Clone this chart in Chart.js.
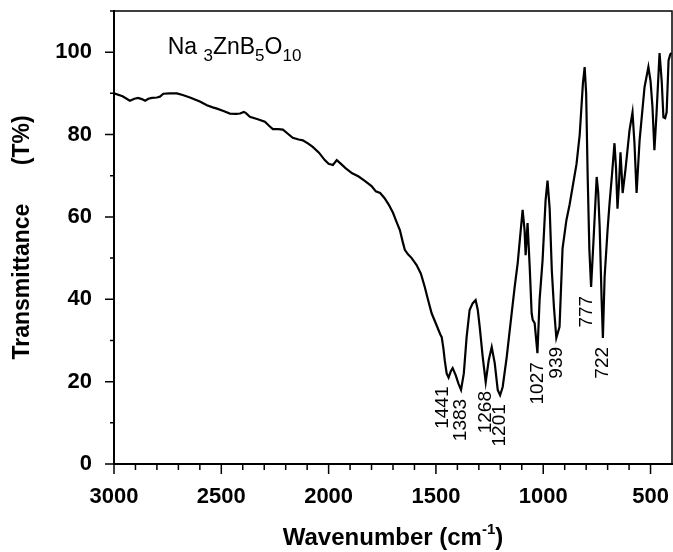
<!DOCTYPE html>
<html><head><meta charset="utf-8">
<script src="https://cdn.jsdelivr.net/npm/chart.js@4"></script>
<style>html,body{margin:0;padding:0;background:#fff}#wrap{width:673px;height:552px}</style>
</head><body><div id="wrap"><canvas id="c" width="673" height="552"></canvas></div>
<script>
// ---- data ----
const wavenumbers = [3000,2960,2926,2905,2888,2870,2855,2840,2823,2800,2786,2770,2740,2707,2680,2646,2600,2567,2540,2520,2490,2460,2430,2413,2395,2385,2367,2330,2297,2275,2260,2235,2213,2190,2167,2140,2120,2095,2074,2045,2018,2000,1980,1962,1945,1920,1890,1860,1830,1800,1780,1760,1740,1720,1700,1685,1668,1655,1645,1630,1613,1590,1570,1552,1535,1520,1497,1480,1473,1465,1459,1450,1441,1430,1422,1408,1395,1383,1370,1357,1343,1329,1315,1305,1296,1282,1268,1254,1240,1226,1212,1201,1189,1170,1156,1133,1119,1108,1096,1087,1082,1073,1063,1054,1049,1040,1027,1017,1003,989,980,970,960,950,939,924,910,892,877,845,830,815,807,800,793,785,777,765,751,744,737,728,722,714,700,691,680,668,661,654,647,640,635,630,617,598,584,575,565,551,528,510,500,491,482,472,458,448,440,432,425,416,408,402];
const transmittance = [90.0,89.3,88.2,88.7,88.9,88.6,88.2,88.7,88.9,89.0,89.2,89.9,90.0,90.0,89.6,89.0,88.0,87.1,86.6,86.3,85.7,85.1,85.0,85.1,85.5,85.2,84.3,83.7,83.1,82.0,81.3,81.3,81.2,80.2,79.2,78.8,78.6,77.8,77.0,75.6,73.8,72.9,72.6,73.8,73.0,71.8,70.6,69.8,68.7,67.5,66.2,65.8,64.6,63.0,61.0,59.0,56.8,54.0,52.0,50.9,50.0,48.3,46.2,43.0,39.5,36.6,33.7,31.5,30.8,28.0,25.2,22.0,21.0,22.6,23.3,21.6,19.5,18.0,22.0,30.8,37.4,39.0,39.8,37.4,33.3,26.0,19.9,25.2,28.4,24.5,18.0,16.7,18.7,26.0,32.5,43.0,48.8,55.0,61.7,56.8,50.7,58.5,47.8,36.6,35.0,34.2,26.9,39.8,49.5,64.0,68.8,62.0,47.0,38.0,30.6,33.3,52.3,59.2,63.0,72.8,80.0,92.5,96.4,90.0,70.0,52.0,43.0,55.0,69.7,66.0,57.5,40.0,30.6,45.4,57.0,63.3,70.0,77.9,72.0,62.0,68.0,75.7,71.0,65.8,71.4,81.0,85.4,78.0,65.8,78.6,91.5,96.4,93.0,86.7,76.2,85.2,99.8,93.0,84.2,84.0,85.4,98.0,99.5,99.8];
const xTickLabels = [3000,2500,2000,1500,1000,500];
const yTickLabels = [0,20,40,60,80,100];
const peakLabels = ['1441','1383','1268','1201','1027','939','777','722'];
const peakWavenumbers = [1441,1383,1268,1201,1027,939,777,722];
const formulaParts = [['Na ',0],['3',1],['ZnB',0],['5',1],['O',0],['10',1]];
const xTitleParts = [['Wavenumber (cm',0],['-1',2],[')',0]];
const yTitle = 'Transmittance      (T%)';

const FONT = "'Liberation Sans', Arial, Helvetica, sans-serif";
// small pixel nudges so neighbouring labels do not collide (style, not data)
const labelNudge = {'1441':-6, '1027':0, '777':-4};

const points = wavenumbers.map((w,i)=>({x:w,y:transmittance[i]}));

function drawParts(ctx, parts, x, y, size, weight, subSize, align){
  ctx.save();
  ctx.textBaseline = 'alphabetic';
  ctx.textAlign = 'left';
  let total = 0;
  const widths = parts.map(([t,k])=>{
    ctx.font = weight+' '+(k? subSize: size)+'px '+FONT;
    const w = ctx.measureText(t).width; total += w; return w;
  });
  let cx = align==='center' ? x - total/2 : x;
  parts.forEach(([t,k],i)=>{
    ctx.font = weight+' '+(k? subSize: size)+'px '+FONT;
    const dy = k===1 ? size*0.28 : (k===2 ? -size*0.45 : 0);
    ctx.fillText(t, cx, y+dy);
    cx += widths[i];
  });
  ctx.restore();
}

const decor = {
  id:'decor',
  afterDraw(chart){
    const {ctx, chartArea:a, scales:{x,y}} = chart;
    ctx.save();
    ctx.strokeStyle = '#000';
    ctx.lineWidth = 1.5;
    ctx.beginPath();
    ctx.moveTo(a.left, a.top); ctx.lineTo(a.right, a.top); ctx.lineTo(a.right, a.bottom);
    ctx.stroke();
    ctx.beginPath();
    for(let v=3000; v>=500; v-=100){
      const px = x.getPixelForValue(v);
      const len = (v%500===0)?10:6;
      ctx.moveTo(px, a.bottom); ctx.lineTo(px, a.bottom+len);
    }
    for(let v=0; v<=110; v+=10){
      const py = y.getPixelForValue(v);
      const len = (v%20===0)?9:4;
      ctx.moveTo(a.left, py); ctx.lineTo(a.left-len, py);
    }
    ctx.stroke();
    ctx.fillStyle = '#000';
    drawParts(ctx, formulaParts, x.getPixelForValue(2750), y.getPixelForValue(99.5), 23, 'normal', 17, 'left');
    ctx.font = 'normal 19px '+FONT;
    ctx.textAlign = 'right';
    ctx.textBaseline = 'middle';
    peakLabels.forEach((lab,i)=>{
      const w = peakWavenumbers[i];
      const idx = wavenumbers.indexOf(w);
      const px = x.getPixelForValue(w) + (labelNudge[lab]||0);
      const py = y.getPixelForValue(transmittance[idx]) + 9;
      ctx.save();
      ctx.translate(px, py);
      ctx.rotate(-Math.PI/2);
      ctx.fillText(lab, 0, 0);
      ctx.restore();
    });
    drawParts(ctx, xTitleParts, (a.left+a.right)/2, 545, 24, 'bold', 15, 'center');
    ctx.restore();
  }
};

function noPad(s){ s.paddingTop = 0; s.paddingBottom = 0; s.paddingLeft = 0; s.paddingRight = 0; }

new Chart(document.getElementById('c'), {
  type:'line',
  data:{datasets:[{data:points, borderColor:'#000', borderWidth:2.2, pointRadius:0, tension:0, fill:false}]},
  options:{
    responsive:false, animation:false, devicePixelRatio:1,
    layout:{padding:{top:11,right:1,left:0,bottom:0}},
    plugins:{legend:{display:false}, tooltip:{enabled:false}},
    scales:{
      x:{type:'linear', min:400, max:3000, reverse:true,
        afterFit(s){ s.height = 88; noPad(s); },
        afterBuildTicks(s){ s.ticks = xTickLabels.map(v=>({value:v})); },
        grid:{display:false, drawTicks:false},
        border:{display:true, color:'#000', width:2},
        ticks:{color:'#000', padding:20, maxRotation:0, autoSkip:false, callback:v=>String(v), font:{family:FONT, size:22, weight:'bold'}}
      },
      y:{type:'linear', min:0, max:110,
        afterFit(s){ s.width = 114; noPad(s); },
        afterBuildTicks(s){ s.ticks = yTickLabels.map(v=>({value:v})); },
        grid:{display:false, drawTicks:false},
        border:{display:true, color:'#000', width:2},
        ticks:{color:'#000', padding:22, autoSkip:false, callback:v=>String(v), font:{family:FONT, size:22, weight:'bold'}},
        title:{display:true, text:yTitle, color:'#000', padding:{top:9,bottom:0}, font:{family:FONT, size:23, weight:'bold'}}
      }
    }
  },
  plugins:[decor]
});
</script></body></html>
